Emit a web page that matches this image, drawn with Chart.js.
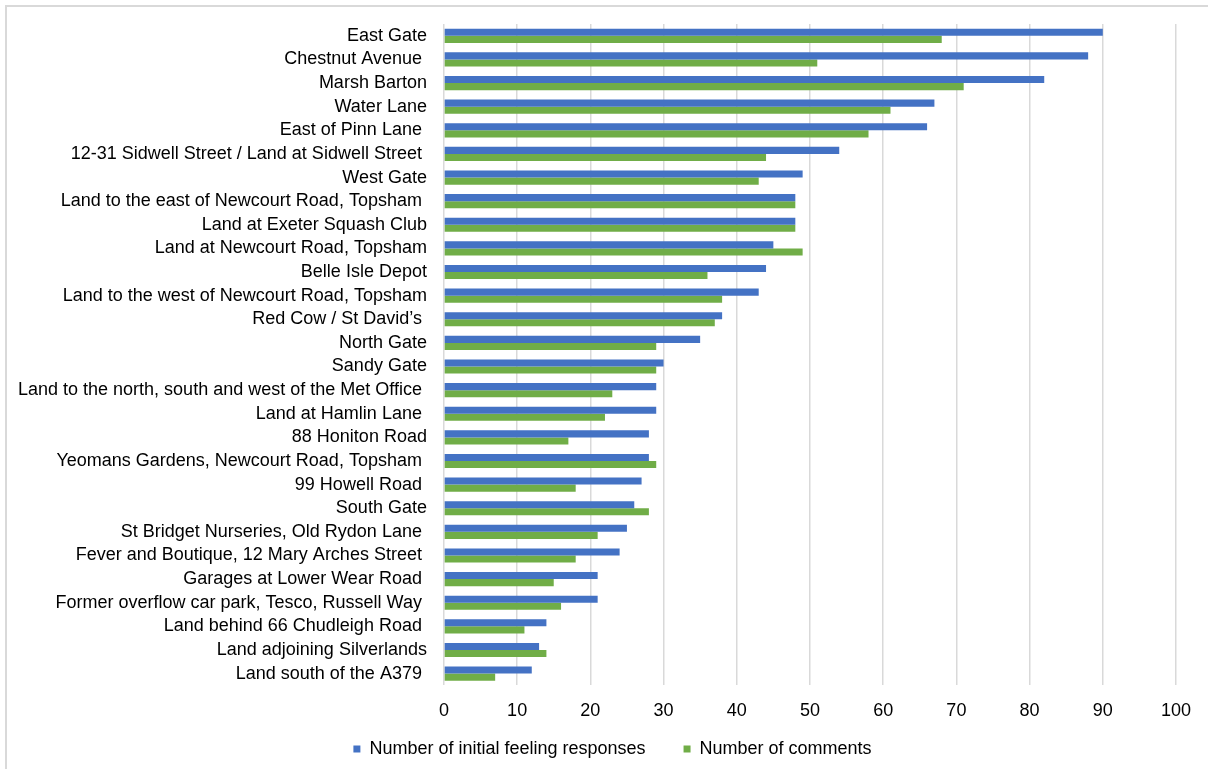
<!DOCTYPE html>
<html>
<head>
<meta charset="utf-8">
<style>
  html, body { margin: 0; padding: 0; background: #fff; }
  #wrap { width: 1208px; height: 769px; position: relative; }
</style>
<script src="https://cdn.jsdelivr.net/npm/chart.js@4/dist/chart.umd.min.js"></script>
</head>
<body>
<div id="wrap"><canvas id="barChart" width="1208" height="769"></canvas></div>
<script>
const sites = [
    'East Gate', 'Chestnut Avenue ', 'Marsh Barton', 'Water Lane', 'East of Pinn Lane ',
    '12-31 Sidwell Street / Land at Sidwell Street ', 'West Gate',
    'Land to the east of Newcourt Road, Topsham ', 'Land at Exeter Squash Club',
    'Land at Newcourt Road, Topsham', 'Belle Isle Depot', 'Land to the west of Newcourt Road, Topsham',
    'Red Cow / St David\u2019s ', 'North Gate', 'Sandy Gate',
    'Land to the north, south and west of the Met Office ', 'Land at Hamlin Lane ',
    '88 Honiton Road', 'Yeomans Gardens, Newcourt Road, Topsham ', '99 Howell Road ',
    'South Gate', 'St Bridget Nurseries, Old Rydon Lane ', 'Fever and Boutique, 12 Mary Arches Street ',
    'Garages at Lower Wear Road ', 'Former overflow car park, Tesco, Russell Way ',
    'Land behind 66 Chudleigh Road ', 'Land adjoining Silverlands', 'Land south of the A379 '
];
const feelingResponses = [90, 88, 82, 67, 66, 54, 49, 48, 48, 45, 44, 43, 38, 35, 30, 29, 29, 28, 28, 27, 26, 25, 24, 21, 21, 14, 13, 12];
const comments = [68, 51, 71, 61, 58, 44, 43, 48, 48, 49, 36, 38, 37, 29, 29, 23, 22, 17, 29, 18, 28, 21, 18, 15, 16, 11, 14, 7];
const xTicks = [0, 10, 20, 30, 40, 50, 60, 70, 80, 90, 100];

// light grey frame round the chart, like the Excel chart area border
const frame = {
    id: 'frame',
    beforeDraw(chart) {
        const ctx = chart.ctx;
        ctx.save();
        ctx.strokeStyle = '#d9d9d9';
        ctx.lineWidth = 2;
        ctx.beginPath();
        ctx.moveTo(6, chart.height + 2);
        ctx.lineTo(6, 6);
        ctx.lineTo(chart.width + 2, 6);
        ctx.stroke();
        ctx.restore();
    }
};

// nudge the legend so it sits where the original one does
const legendShift = {
    id: 'legendShift',
    afterLayout(chart) {
        chart.legend.left += 20;
        chart.legend.right += 20;
    }
};

Chart.defaults.font.family = '"Liberation Sans", Arial, sans-serif';
Chart.defaults.font.size = 18;
Chart.defaults.color = '#000';

new Chart(document.getElementById('barChart'), {
    type: 'bar',
    data: {
        labels: sites,
        datasets: [
            {
                label: 'Number of initial feeling responses',
                data: feelingResponses,
                backgroundColor: '#4472c4',
                categoryPercentage: 0.6,
                barPercentage: 1.0
            },
            {
                label: 'Number of comments',
                data: comments,
                backgroundColor: '#70ad47',
                categoryPercentage: 0.6,
                barPercentage: 1.0
            }
        ]
    },
    plugins: [frame, legendShift],
    options: {
        indexAxis: 'y',
        responsive: false,
        animation: false,
        layout: { padding: { left: 9, right: 32, top: 24, bottom: 1 } },
        scales: {
            x: {
                min: 0,
                max: 100,
                afterBuildTicks: axis => { axis.ticks = xTicks.map(v => ({ value: v })); },
                grid: { color: '#d9d9d9', lineWidth: 1.5, drawTicks: false },
                border: { display: false },
                ticks: { padding: 15 }
            },
            y: {
                grid: { display: false },
                border: { display: false },
                ticks: { padding: 9, autoSkip: false }
            }
        },
        plugins: {
            legend: {
                position: 'bottom',
                labels: {
                    boxWidth: 7,
                    boxHeight: 7,
                    padding: 3,
                    generateLabels(chart) {
                        const items = Chart.defaults.plugins.legend.labels.generateLabels(chart);
                        // wider gap between the two entries
                        items[0].text += '       ';
                        return items;
                    }
                }
            },
            tooltip: { enabled: false }
        }
    }
});
</script>
</body>
</html>
